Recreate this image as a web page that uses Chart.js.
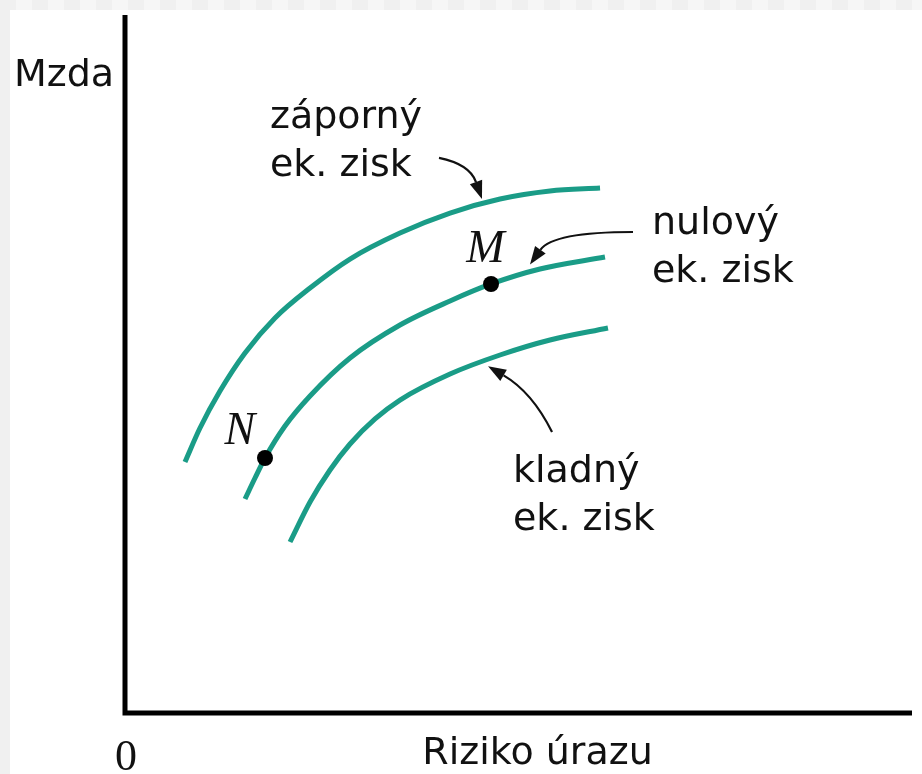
<!DOCTYPE html>
<html>
<head>
<meta charset="utf-8">
<script src="https://cdn.jsdelivr.net/npm/chart.js@4.4.1/dist/chart.umd.min.js"></script>
<style>
  html, body { margin: 0; padding: 0; background: #fff; }
  #wrap { width: 922px; height: 774px; }
</style>
</head>
<body>
<div id="wrap"><canvas id="chart" width="922" height="774"></canvas></div>
<script>
// Křivky (riziko úrazu vs. mzda)
const zapornyX = [7.62, 9.53, 12.07, 15.25, 19.06, 23.51, 28.59, 34.94, 41.30, 47.65, 54.00, 60.36];
const zapornyY = [35.87, 40.75, 46.05, 51.51, 56.53, 60.83, 64.99, 68.72, 71.59, 73.60, 74.75, 75.18];

const nulovyX = [15.25, 16.52, 17.79, 20.33, 23.51, 28.59, 34.94, 41.30, 46.51, 52.73, 60.99];
const nulovyY = [30.56, 33.57, 36.44, 41.03, 45.34, 50.79, 55.52, 58.97, 61.41, 63.56, 65.28];

const kladnyX = [20.97, 23.51, 26.05, 28.59, 31.77, 34.94, 41.30, 47.65, 54.00, 61.37];
const kladnyY = [24.39, 30.13, 34.72, 38.45, 42.04, 44.76, 48.49, 51.22, 53.37, 55.09];

// Body N a M
const pointNames = ['N', 'M'];
const pointX = [17.79, 46.51];
const pointY = [36.44, 61.41];
const pointLabelX = [14.6, 45.8];
const pointLabelY = [38.5, 64.5];

// Popisky křivek
const curveLabels = [['záporný', 'ek. zisk'], ['nulový', 'ek. zisk'], ['kladný', 'ek. zisk']];
const curveLabelX = [18.42, 66.96, 49.30];
const curveLabelY = [83.8, 68.6, 33.0];

// Šipky: začátek, řídicí bod, hrot
const arrowStart = [[39.9, 79.5], [64.55, 68.87], [54.26, 40.17]];
const arrowCtrl = [[43.8, 78.6], [54.38, 68.87], [51.72, 45.91]];
const arrowEnd = [[45.36, 73.6], [51.46, 64.2], [46.13, 49.6]];

const yTitle = 'Mzda';
const xTitle = 'Riziko úrazu';
const originLabel = '0';

const TEAL = '#1a9c87';
const SANS = '"DejaVu Sans", Verdana, sans-serif';
const SERIF = '"Liberation Serif", "Times New Roman", serif';

function toPoints(xs, ys) {
    return xs.map((x, i) => ({ x: x, y: ys[i] }));
}

function curveDataset(xs, ys) {
    return {
        data: toPoints(xs, ys),
        showLine: true,
        borderColor: TEAL,
        borderWidth: 5,
        pointRadius: 0,
        fill: false,
        cubicInterpolationMode: 'monotone',
        borderCapStyle: 'butt'
    };
}

// pozadí s šedým okrajem nahoře a vlevo
const backgroundPlugin = {
    id: 'background',
    beforeDraw(chart) {
        const ctx = chart.ctx;
        ctx.save();
        ctx.fillStyle = '#ffffff';
        ctx.fillRect(0, 0, chart.width, chart.height);
        ctx.fillStyle = '#f0f0f0';
        ctx.fillRect(0, 0, 10, chart.height);
        for (let x = 0; x < chart.width; x += 16) {
            ctx.fillStyle = (x / 16) % 2 === 0 ? '#f0f0f0' : '#f6f6f6';
            ctx.fillRect(x, 0, 16, 10);
        }
        ctx.restore();
    }
};

// osy a všechny popisky
const overlayPlugin = {
    id: 'overlay',
    afterDatasetsDraw(chart) {
        const ctx = chart.ctx;
        const xs = chart.scales.x;
        const ys = chart.scales.y;
        const area = chart.chartArea;
        const x0 = xs.getPixelForValue(0);
        const y0 = ys.getPixelForValue(0);

        ctx.save();
        ctx.strokeStyle = '#000';
        ctx.lineWidth = 5;
        ctx.lineCap = 'butt';
        ctx.lineJoin = 'miter';
        ctx.beginPath();
        ctx.moveTo(x0, area.top);
        ctx.lineTo(x0, y0 + 1);
        ctx.lineTo(area.right, y0 + 1);
        ctx.stroke();

        // šipky
        ctx.lineWidth = 2.2;
        ctx.strokeStyle = '#111';
        ctx.fillStyle = '#111';
        for (let i = 0; i < arrowStart.length; i++) {
            const sx = xs.getPixelForValue(arrowStart[i][0]);
            const sy = ys.getPixelForValue(arrowStart[i][1]);
            const cx = xs.getPixelForValue(arrowCtrl[i][0]);
            const cy = ys.getPixelForValue(arrowCtrl[i][1]);
            const ex = xs.getPixelForValue(arrowEnd[i][0]);
            const ey = ys.getPixelForValue(arrowEnd[i][1]);
            const ang = Math.atan2(ey - cy, ex - cx);
            const headLen = 18;
            const headW = 6.5;
            const bx = ex - headLen * Math.cos(ang);
            const by = ey - headLen * Math.sin(ang);
            ctx.beginPath();
            ctx.moveTo(sx, sy);
            ctx.quadraticCurveTo(cx, cy, bx, by);
            ctx.stroke();
            ctx.beginPath();
            ctx.moveTo(ex, ey);
            ctx.lineTo(bx + headW * Math.sin(ang), by - headW * Math.cos(ang));
            ctx.lineTo(bx - headW * Math.sin(ang), by + headW * Math.cos(ang));
            ctx.closePath();
            ctx.fill();
        }

        // body N, M
        ctx.fillStyle = '#000';
        for (let i = 0; i < pointNames.length; i++) {
            ctx.beginPath();
            ctx.arc(xs.getPixelForValue(pointX[i]), ys.getPixelForValue(pointY[i]), 8, 0, Math.PI * 2);
            ctx.fill();
        }
        ctx.font = 'italic 46px ' + SERIF;
        ctx.textAlign = 'center';
        ctx.textBaseline = 'alphabetic';
        ctx.fillStyle = '#111';
        for (let i = 0; i < pointNames.length; i++) {
            ctx.fillText(pointNames[i], xs.getPixelForValue(pointLabelX[i]), ys.getPixelForValue(pointLabelY[i]));
        }

        // popisky křivek
        ctx.font = '38px ' + SANS;
        ctx.textAlign = 'left';
        for (let i = 0; i < curveLabels.length; i++) {
            const lx = xs.getPixelForValue(curveLabelX[i]);
            const ly = ys.getPixelForValue(curveLabelY[i]);
            curveLabels[i].forEach((line, j) => ctx.fillText(line, lx, ly + j * 48));
        }

        // názvy os
        ctx.fillText(yTitle, 14, area.top + 71);
        ctx.textAlign = 'center';
        ctx.fillText(xTitle, (x0 + area.right) / 2 + 19, y0 + 52);
        ctx.font = '44px ' + SERIF;
        ctx.fillText(originLabel, x0 + 1, y0 + 58);
        ctx.restore();
    }
};

new Chart(document.getElementById('chart'), {
    type: 'scatter',
    data: {
        datasets: [
            curveDataset(zapornyX, zapornyY),
            curveDataset(nulovyX, nulovyY),
            curveDataset(kladnyX, kladnyY)
        ]
    },
    options: {
        responsive: false,
        animation: false,
        layout: { padding: { left: 125, right: 10, top: 15, bottom: 62 } },
        scales: {
            x: { type: 'linear', min: 0, max: 100, display: false },
            y: { type: 'linear', min: 0, max: 100, display: false }
        },
        plugins: {
            legend: { display: false },
            tooltip: { enabled: false }
        }
    },
    plugins: [backgroundPlugin, overlayPlugin]
});
</script>
</body>
</html>
